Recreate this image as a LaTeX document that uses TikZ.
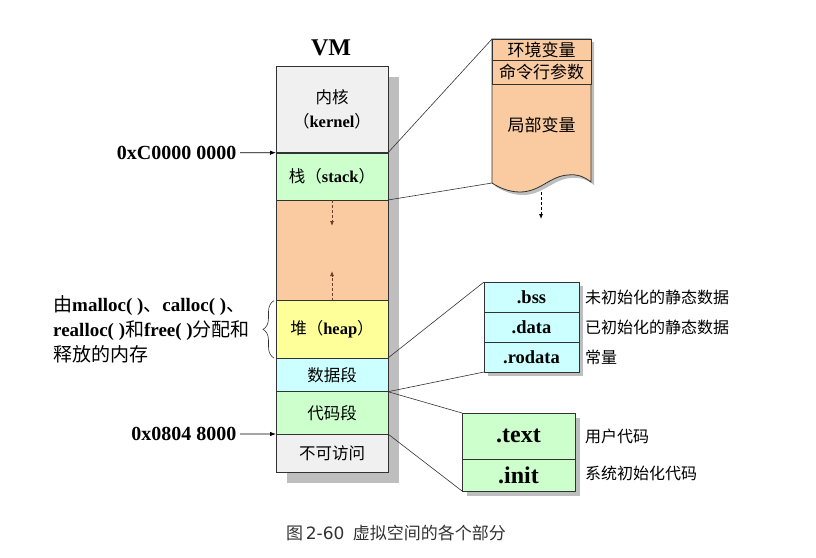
\documentclass[tikz,border=0pt]{standalone}
\usepackage{fontspec}
\setmainfont{Liberation Serif}
\newfontfamily\cjk{Noto Sans CJK SC}
\newfontfamily\capfont{DejaVu Sans}
\usetikzlibrary{positioning,arrows.meta,shadows,decorations.pathreplacing}
\definecolor{kernelgray}{RGB}{240,240,240}
\definecolor{stackgreen}{RGB}{204,255,204}
\definecolor{freepeach}{RGB}{250,202,160}
\definecolor{heapyellow}{RGB}{255,255,153}
\definecolor{datacyan}{RGB}{204,255,255}
\definecolor{shadowgray}{RGB}{190,190,190}
\definecolor{linegray}{RGB}{50,50,50}
\definecolor{dashbrown}{RGB}{110,60,40}
\newcommand{\zh}[1]{{\cjk #1}}
\newcommand{\en}[1]{{\rmfamily\bfseries #1}}
\newcommand{\fs}[2]{\fontsize{#1}{#2}\selectfont}

\begin{document}
\begin{tikzpicture}[x=1pt,y=-1pt,
  seg/.style={draw=linegray,line width=0.8pt,inner sep=0pt,outer sep=0pt,
    minimum width=112pt,align=center,font=\fs{16.5}{24}\cjk,
    drop shadow={shadow xshift=11pt,shadow yshift=-11pt,fill=shadowgray,opacity=1}},
  sect/.style={draw=linegray,line width=0.8pt,fill=datacyan,inner sep=0pt,outer sep=0pt,
    minimum width=95pt,minimum height=30pt,font=\fs{18.5}{18}\bfseries,
    drop shadow={shadow xshift=4pt,shadow yshift=-4pt,fill=shadowgray,opacity=1}},
  codebox/.style={draw=linegray,line width=0.8pt,fill=stackgreen,inner sep=0pt,outer sep=0pt,
    minimum width=113pt,font=\fs{24}{24}\bfseries,
    drop shadow={shadow xshift=5pt,shadow yshift=-5pt,fill=shadowgray,opacity=1}},
  row/.style={draw=linegray,line width=0.8pt,fill=freepeach,inner sep=0pt,outer sep=0pt,
    minimum width=99pt,font=\fs{17}{17}\cjk},
  note/.style={font=\fs{16}{16}\cjk,inner sep=3pt},
  addr/.style={font=\fs{20}{20}\bfseries,inner sep=3.5pt},
  link/.style={draw=linegray,line width=0.6pt},
  addrarrow/.style={line width=0.8pt,-{Latex[length=6pt,width=4.5pt]}},
  dasharrow/.style={line width=0.8pt,dash pattern=on 3pt off 2pt,-{Latex[length=5pt,width=4pt]}}]
\useasboundingbox (0,0) rectangle (816,557);

\node[font=\fs{24}{24}\bfseries] (vm) at (331,48) {VM};

% VM column
\node[seg,fill=kernelgray,minimum height=86.7pt,anchor=north west] (kernel) at (276,66) {内核\\（\en{kernel}）};
\node[seg,fill=stackgreen,minimum height=47.3pt,below=0pt of kernel] (stack) {栈（\en{stack}）};
\node[seg,fill=freepeach,minimum height=100.7pt,below=0pt of stack] (free) {};
\node[seg,fill=heapyellow,minimum height=57.3pt,below=0pt of free] (heap) {堆（\en{heap}）};
\node[seg,fill=datacyan,minimum height=33.7pt,below=0pt of heap] (data) {数据段};
\node[seg,fill=stackgreen,minimum height=42.3pt,below=0pt of data] (code) {代码段};
\node[seg,fill=kernelgray,minimum height=38pt,below=0pt of code] (noaccess) {不可访问};
\draw[line width=1.6pt,draw=linegray] (kernel.south west) -- (kernel.south east);

\coordinate (growdown) at (332,226);
\coordinate (growup) at (332,271);
\draw[dasharrow,draw=dashbrown] (free.north) -- (growdown);
\draw[dasharrow,draw=dashbrown] (heap.north) -- (growup);

% addresses
\node[addr,anchor=east] (addrhi) at (240,152.7) {0xC0000 0000};
\node[addr,anchor=east] (addrlo) at (240,434) {0x0804 8000};
\draw[addrarrow] (addrhi) -- (kernel.south west);
\draw[addrarrow] (addrlo) -- (code.south west);

% heap brace
\node[font=\fs{19}{25}\cjk,align=left,anchor=west,inner sep=0pt] (heapnote) at (53,329)
  {由\en{malloc( )}、\en{calloc( )}、\\\en{realloc( )}和\en{free( )}分配和\\释放的内存};
\draw[draw=linegray,line width=0.6pt,decorate,decoration={brace,amplitude=11pt}]
  ([xshift=-2pt]heap.south west) -- ([xshift=-2pt]heap.north west);

% stack frame
\fill[shadowgray,shift={(3,3)}] (492,39) -- (591,39) -- (591,182)
  .. controls (583,176) and (577,174) .. (568,175)
  .. controls (550,176) and (540,192) .. (520,192)
  .. controls (508,192) and (498,187) .. (492,183) -- cycle;
\draw[draw=linegray,line width=0.8pt,fill=freepeach] (492,39) -- (591,39) -- (591,182)
  .. controls (583,176) and (577,174) .. (568,175)
  .. controls (550,176) and (540,192) .. (520,192)
  .. controls (508,192) and (498,187) .. (492,183) -- cycle;
\node[row,minimum height=21pt,anchor=north west] (env) at (492,39) {环境变量};
\node[row,minimum height=24pt,below=0pt of env] (args) {命令行参数};
\node[font=\fs{17}{17}\cjk] (locals) at (541.5,125) {局部变量};
\coordinate (frameend) at (492,183);
\coordinate (framebot) at (541,192);
\coordinate (framegrow) at (541,219);
\draw[dasharrow] (framebot) -- (framegrow);
\draw[link] (kernel.south east) -- (env.north west);
\draw[link] (stack.south east) -- (frameend);

% data sections
\node[sect,anchor=north west] (bss) at (484,282) {.bss};
\node[sect,below=0pt of bss] (dsec) {.data};
\node[sect,below=0pt of dsec] (rodata) {.rodata};
\node[note,anchor=west,right=3pt of bss] (bssnote) {未初始化的静态数据};
\node[note,anchor=west,right=3pt of dsec] (dsecnote) {已初始化的静态数据};
\node[note,anchor=west,right=3pt of rodata] (rodatanote) {常量};
\draw[link] (heap.south east) -- (bss.north west);
\draw[link] (data.south east) -- (rodata.south west);

% code sections
\node[codebox,minimum height=46pt,anchor=north west] (text) at (462,413) {.text};
\node[codebox,minimum height=32pt,below=0pt of text] (init) {.init};
\node[note,right=7pt of text] (textnote) {用户代码};
\node[note,right=7pt of init,yshift=2pt] (initnote) {系统初始化代码};
\draw[link] (data.south east) -- (text.north west);
\draw[link] (code.south east) -- (init.south west);

\node[font=\fs{17}{17},text=linegray] (caption) at (396,533) {\zh{图}\,{\capfont 2-60}\enspace\zh{虚拟空间的各个部分}};
\end{tikzpicture}
\end{document}
